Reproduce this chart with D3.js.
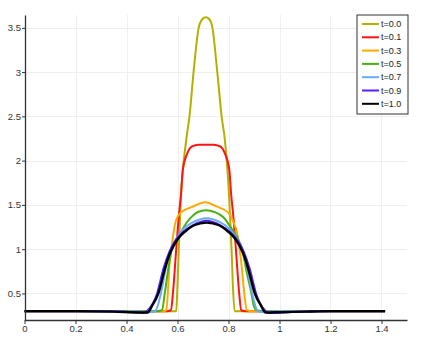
<!DOCTYPE html>
<html>
<head>
<meta charset="utf-8">
<script src="https://cdn.jsdelivr.net/npm/d3@7"></script>
<style>
  body { margin: 0; background: #fff; }
  text { font-family: "Liberation Sans", Arial, sans-serif; }
</style>
</head>
<body>
<script>
// series, [x, value]
const t00 = [[0,0.3],[0.3,0.3],[0.595,0.3],[0.6,0.6],[0.605,1.0],[0.613,1.56],[0.634,2.23],[0.647,2.5],[0.663,3.0],[0.683,3.5],[0.698,3.6],[0.711,3.62],[0.724,3.6],[0.737,3.5],[0.756,3.0],[0.773,2.5],[0.786,2.23],[0.803,1.56],[0.812,1.0],[0.817,0.6],[0.824,0.3],[1.414,0.3]]
const t01 = [[0,0.3],[0.3,0.3],[0.56,0.3],[0.574,0.31],[0.582,0.5],[0.595,1.0],[0.606,1.4],[0.613,1.6],[0.621,1.9],[0.638,2.08],[0.657,2.16],[0.683,2.18],[0.741,2.18],[0.767,2.16],[0.786,2.08],[0.803,1.9],[0.811,1.6],[0.818,1.4],[0.829,1.0],[0.842,0.5],[0.85,0.31],[0.864,0.3],[1.414,0.3]]
const t03 = [[0,0.3],[0.3,0.3],[0.54,0.3],[0.556,0.31],[0.562,0.5],[0.568,0.8],[0.578,1.05],[0.59,1.28],[0.611,1.41],[0.66,1.48],[0.708,1.53],[0.755,1.48],[0.8,1.41],[0.82,1.3],[0.834,1.18],[0.85,0.85],[0.862,0.5],[0.872,0.31],[0.89,0.3],[1.414,0.3]]
const t05 = [[0,0.3],[0.3,0.3],[0.52,0.3],[0.539,0.31],[0.55,0.5],[0.565,0.8],[0.578,1.0],[0.598,1.1],[0.625,1.25],[0.65,1.35],[0.68,1.42],[0.712,1.44],[0.745,1.42],[0.78,1.36],[0.81,1.24],[0.833,1.14],[0.853,1.0],[0.872,0.73],[0.89,0.5],[0.9,0.35],[0.911,0.31],[0.93,0.3],[1.414,0.3]]
const t07 = [[0,0.3],[0.3,0.3],[0.45,0.295],[0.5,0.29],[0.513,0.3],[0.535,0.5],[0.555,0.8],[0.572,0.99],[0.595,1.12],[0.625,1.23],[0.665,1.31],[0.714,1.35],[0.763,1.31],[0.803,1.23],[0.833,1.12],[0.856,0.99],[0.873,0.8],[0.893,0.5],[0.915,0.3],[0.93,0.29],[1.0,0.3],[1.414,0.3]]
const t09 = [[0,0.3],[0.3,0.3],[0.45,0.285],[0.47,0.28],[0.48,0.3],[0.52,0.5],[0.545,0.78],[0.568,0.97],[0.59,1.09],[0.62,1.19],[0.66,1.27],[0.714,1.32],[0.768,1.27],[0.808,1.19],[0.838,1.09],[0.86,0.97],[0.883,0.78],[0.908,0.5],[0.946,0.3],[0.955,0.28],[1.05,0.29],[1.15,0.3],[1.414,0.3]]
const t10 = [[0,0.3],[0.2,0.3],[0.35,0.295],[0.45,0.285],[0.484,0.285],[0.5,0.36],[0.525,0.5],[0.548,0.75],[0.566,0.92],[0.585,1.04],[0.605,1.13],[0.63,1.2],[0.665,1.27],[0.714,1.3],[0.763,1.27],[0.798,1.2],[0.823,1.13],[0.843,1.04],[0.862,0.92],[0.88,0.75],[0.903,0.5],[0.928,0.36],[0.944,0.285],[1.0,0.288],[1.1,0.295],[1.2,0.3],[1.414,0.3]]

const labels = ["t=0.0","t=0.1","t=0.3","t=0.5","t=0.7","t=0.9","t=1.0"]
const colors = ["#b5b000","#ff1414","#ffaa00","#4caf14","#6aaaff","#5522ff","#000000"]
const seriesList = [t00,t01,t03,t05,t07,t09,t10]
const xTicks = [0,0.2,0.4,0.6,0.8,1,1.2,1.4]
const yTicks = [0.5,1,1.5,2,2.5,3,3.5]

let w = 423, h = 341

let svg = d3.select("body").append("svg")
    .attr("width", w)
    .attr("height", h)

let x = d3.scaleLinear().domain([0, 1.5]).range([24.5, 407])
let y = d3.scaleLinear().domain([0.2, 3.645]).range([320, 15])

// grid
let grid = svg.append("g").attr("stroke", "#efefef").attr("stroke-width", 1)
grid.selectAll("line.v").data(xTicks).enter().append("line")
    .attr("x1", d => Math.round(x(d)) + 0.5).attr("x2", d => Math.round(x(d)) + 0.5)
    .attr("y1", 15).attr("y2", 320)
grid.selectAll("line.h").data(yTicks).enter().append("line")
    .attr("y1", d => Math.round(y(d)) + 0.5).attr("y2", d => Math.round(y(d)) + 0.5)
    .attr("x1", 25).attr("x2", 407)

let line = d3.line()
    .x(d => x(d[0]))
    .y(d => y(d[1]))
    .curve(d3.curveMonotoneX)

svg.append("g").selectAll("path")
    .data(seriesList)
    .enter().append("path")
    .attr("d", d => line(d))
    .attr("fill", "none")
    .attr("stroke", (d, i) => colors[i])
    .attr("stroke-width", (d, i) => i == 6 ? 2.4 : 2)
    .attr("stroke-linejoin", "round")

// axes
let xAxis = svg.append("g")
    .attr("transform", "translate(0,320)")
    .call(d3.axisBottom(x).tickValues(xTicks).tickSize(4).tickSizeOuter(0).tickFormat(d3.format("")))
let yAxis = svg.append("g")
    .attr("transform", "translate(25,0)")
    .call(d3.axisLeft(y).tickValues(yTicks).tickSize(3).tickSizeOuter(0).tickFormat(d3.format("")))

;[xAxis, yAxis].forEach(a => {
    a.select(".domain").attr("stroke", "#333").attr("stroke-width", 1.3)
    a.selectAll(".tick line").attr("stroke", "#333")
    a.selectAll(".tick text").attr("fill", "#333").style("font-size", "9.5px")
})
xAxis.selectAll(".tick text").attr("dy", "0.75em").attr("y", 5)
yAxis.selectAll(".tick text").attr("x", -4)

// legend
let legend = svg.append("g").attr("transform", "translate(357,15)")
legend.append("rect")
    .attr("width", 51).attr("height", 99)
    .attr("fill", "#fff").attr("stroke", "#333").attr("stroke-width", 1)
let items = legend.selectAll("g.item").data(labels).enter().append("g")
    .attr("transform", (d, i) => "translate(0," + (9 + i * 13.3) + ")")
items.append("line")
    .attr("x1", 5).attr("x2", 22)
    .attr("stroke", (d, i) => colors[i]).attr("stroke-width", 2)
items.append("text")
    .attr("x", 24).attr("dy", "0.35em")
    .style("font-size", "9px").attr("fill", "#222")
    .text(d => d)
</script>
</body>
</html>
